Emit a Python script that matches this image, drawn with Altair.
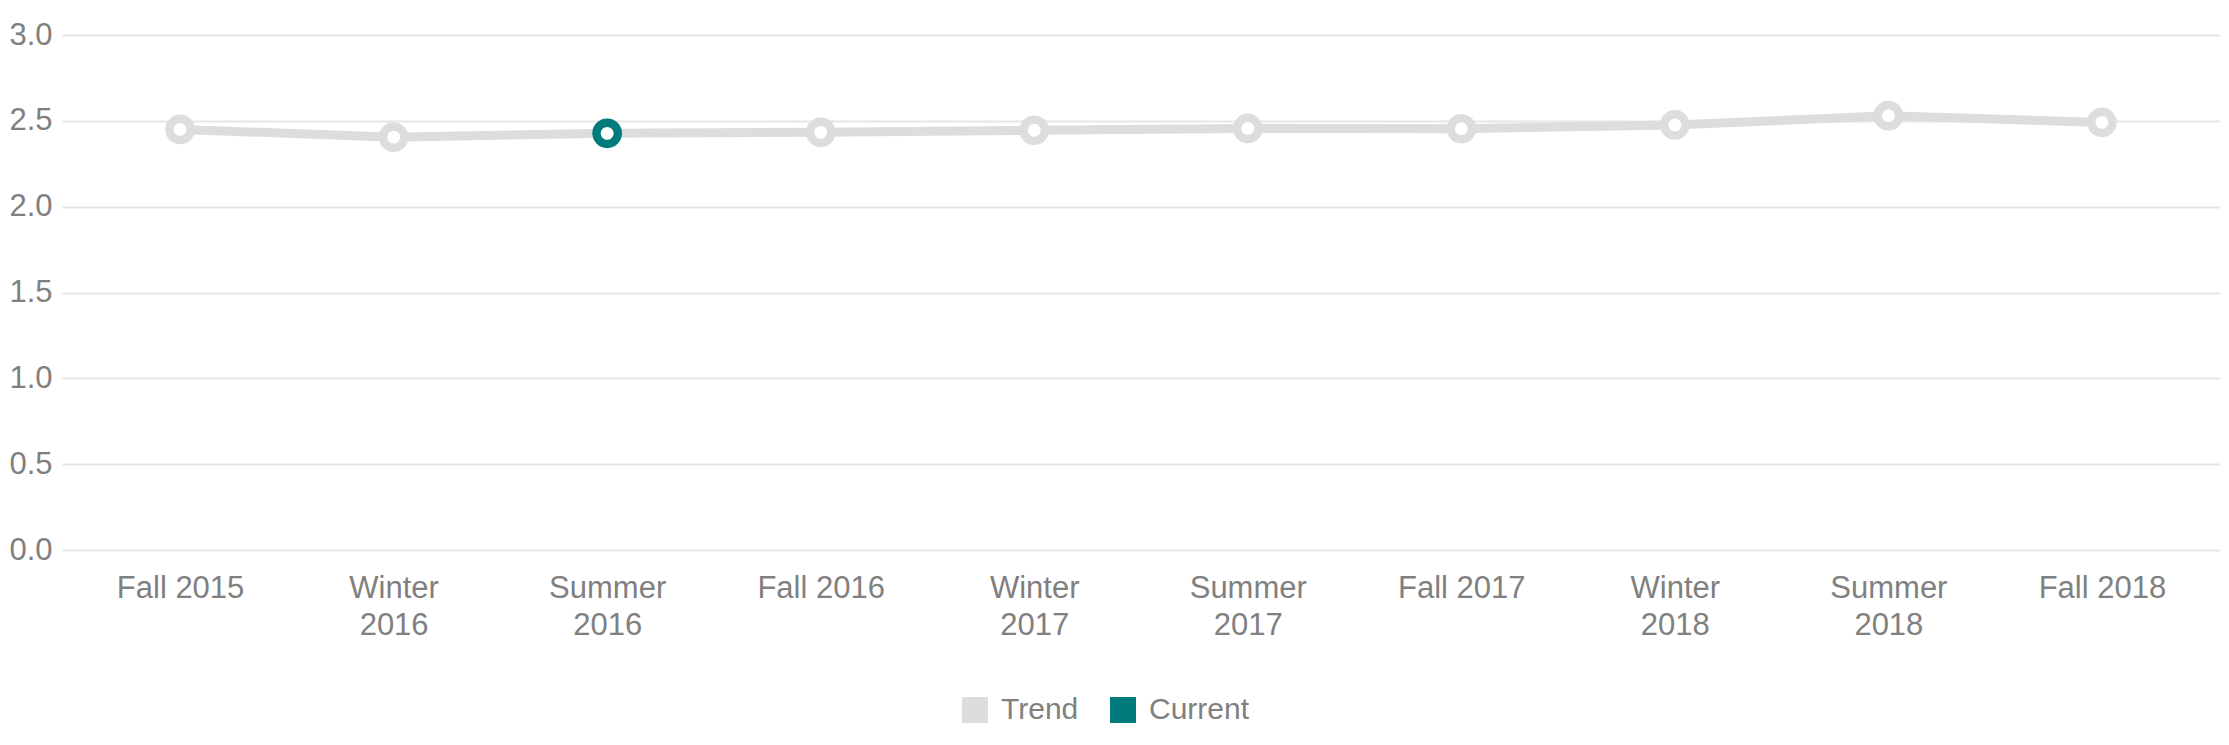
import altair as alt
import pandas as pd

terms = ["Fall 2015", "Winter 2016", "Summer 2016", "Fall 2016", "Winter 2017",
         "Summer 2017", "Fall 2017", "Winter 2018", "Summer 2018", "Fall 2018"]
values = [2.45, 2.405, 2.427, 2.433, 2.445, 2.456, 2.454, 2.476, 2.53, 2.491]
status = ["Trend", "Trend", "Current", "Trend", "Trend",
          "Trend", "Trend", "Trend", "Trend", "Trend"]
legend_names = ["Trend", "Current"]
legend_colors = ["#dddddd", "#007b7b"]
y_ticks = [0, 0.5, 1.0, 1.5, 2.0, 2.5, 3.0]

df = pd.DataFrame({"term": terms, "value": values, "status": status})

FONT = "Liberation Sans"
GRAY = "#808080"

x_enc = alt.X(
    "term:N", sort=terms,
    scale=alt.Scale(type="point", padding=0.553),
    axis=alt.Axis(
        title=None, labelAngle=0, domain=False, ticks=False, tickSize=0, grid=False,
        labelFontSize=31, labelFont=FONT, labelColor=GRAY, labelPadding=23,
        labelLineHeight=37, labelOverlap=False, labelLimit=0,
        labelExpr="indexof(datum.label, 'Fall') == 0 ? datum.label : split(datum.label, ' ')",
    ),
)
y_enc = alt.Y(
    "value:Q",
    scale=alt.Scale(domain=[0, 3], nice=False, zero=True),
    axis=alt.Axis(
        title=None, values=y_ticks, format=".1f", domain=False, ticks=False, tickSize=0,
        grid=True, gridColor="#e6e6e6", gridWidth=2,
        labelFontSize=31, labelFont=FONT, labelColor=GRAY, labelPadding=10,
    ),
)

base = alt.Chart(df)

line = base.mark_line(color="#dddddd", strokeWidth=9).encode(x=x_enc, y=y_enc)

outer = base.mark_circle(size=881, opacity=1).encode(
    x=x_enc, y=y_enc,
    color=alt.Color(
        "status:N",
        scale=alt.Scale(domain=legend_names, range=legend_colors),
        legend=alt.Legend(
            title=None, orient="none", direction="horizontal",
            legendX=898, legendY=660,
            symbolType="square", symbolSize=676, symbolStrokeWidth=0, symbolOpacity=1,
            labelFontSize=30, labelFont=FONT, labelColor=GRAY, labelOffset=11,
            columnPadding=29, labelLimit=0,
        ),
    ),
)

inner = base.mark_circle(size=165, opacity=1, color="white").encode(x=x_enc, y=y_enc)

chart = (
    alt.layer(line, outer, inner)
    .properties(
        width=2158, height=515,
        padding={"left": 54, "top": 27, "right": 0, "bottom": 180},
        autosize=alt.AutoSizeParams(type="none"),
        background="white",
    )
    .configure_view(stroke=None)
)

chart.save("out.html", embed_options={"renderer": "svg", "actions": False})
